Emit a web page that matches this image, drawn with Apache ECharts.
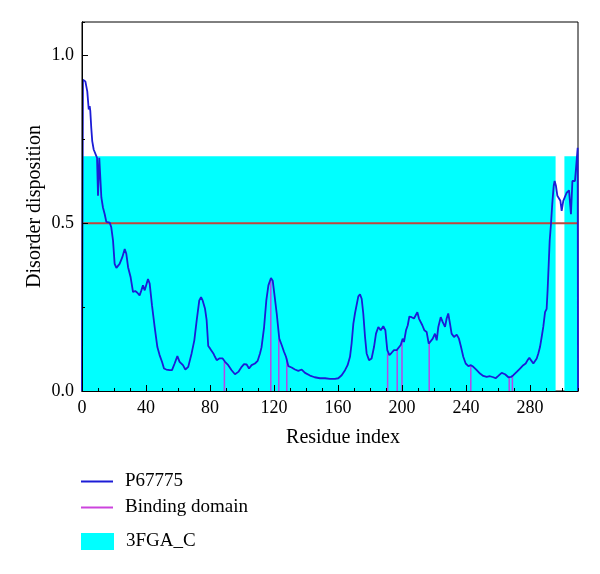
<!DOCTYPE html>
<html><head><meta charset="utf-8">
<script src="https://cdn.jsdelivr.net/npm/echarts@6/dist/echarts.min.js"></script>
<style>html,body{margin:0;padding:0;background:#fff}#c{width:600px;height:574px}</style>
</head><body><div id="c"></div>
<script>
const residues = [0,0.6,2.1,3.3,4.2,4.8,5.2,5.8,6.4,7.3,8.5,9.4,10,10.8,11.3,12.1,13.1,14.2,15.2,17.3,18.3,19.4,20.4,21.5,23.5,25.2,26.7,27.7,28.8,30.4,31.9,33.3,34.6,36,37.1,38.1,39.2,40.2,41.25,42.3,43.75,45.4,47.1,48.5,50,51.25,52.7,54.8,56.25,57.9,59.6,61,63.1,64.6,66.4,68.5,70.2,71.7,73.3,74.4,75.4,76.9,77.9,78.9,80,81,82.1,83.1,84.2,85.8,87.9,89.4,91.4,93.5,95.6,97.7,99.8,101.25,102.9,104.4,106,108.1,109.8,111.25,112.2,113.8,115.2,116.5,118.1,119.2,120.2,121.7,123.3,124.8,126.25,127.5,129,131,133.1,135.2,137.3,139.4,142.5,145.4,148.75,151.9,155,158.1,160.2,162.3,164.4,166,167.5,168.5,169.6,170.6,171.7,172.7,173.75,174.8,175.8,176.9,177.9,179.4,181,182.5,183.75,185.2,186.7,188.3,189.6,190.8,192.1,193.5,195,196.7,197.9,199.2,200.4,201.25,202.5,203.6,204.6,206,207.5,208.75,209.6,210.6,211.7,212.7,214,215.4,216.7,217.9,219.2,220.6,221.7,222.7,224.2,225.4,226.9,227.9,228.9,230,231,232.5,234.2,235.6,236.9,238.3,239.8,241.5,243.1,244.6,246.7,248.75,250.8,252.9,255,257.1,258.5,260.2,262.3,264.4,266.5,268.1,269.6,271.7,273.75,275.8,277.3,278.5,279.6,280.6,282.1,283.1,284.2,285.2,286.25,287.3,288.3,289.4,290.4,291,291.7,292.3,293.1,293.9,294.8,295.4,296.25,297.1,298.1,299,299.8,300.8,301.9,302.9,304.4,305.2,305.6,306.5,308.1,309.2,309.8,310];
const disorder = [0,0.928,0.923,0.893,0.839,0.849,0.834,0.784,0.745,0.72,0.715,0.695,0.582,0.695,0.69,0.577,0.547,0.527,0.504,0.502,0.488,0.448,0.379,0.367,0.379,0.399,0.423,0.409,0.369,0.339,0.295,0.298,0.293,0.285,0.300,0.315,0.300,0.300,0.334,0.320,0.255,0.191,0.131,0.107,0.087,0.067,0.064,0.062,0.062,0.082,0.104,0.087,0.077,0.064,0.072,0.112,0.151,0.211,0.270,0.280,0.270,0.245,0.211,0.134,0.127,0.122,0.112,0.102,0.092,0.097,0.097,0.087,0.077,0.062,0.050,0.057,0.072,0.080,0.079,0.067,0.077,0.082,0.090,0.112,0.13,0.19,0.27,0.315,0.337,0.329,0.290,0.231,0.156,0.137,0.117,0.102,0.074,0.070,0.064,0.060,0.064,0.054,0.046,0.041,0.038,0.038,0.036,0.036,0.038,0.047,0.062,0.077,0.102,0.141,0.201,0.231,0.235,0.282,0.288,0.275,0.231,0.161,0.112,0.092,0.097,0.131,0.171,0.191,0.181,0.193,0.181,0.122,0.107,0.114,0.122,0.122,0.120,0.137,0.156,0.146,0.181,0.196,0.222,0.220,0.216,0.220,0.235,0.216,0.220,0.196,0.181,0.176,0.141,0.146,0.156,0.171,0.151,0.191,0.220,0.206,0.191,0.216,0.231,0.201,0.171,0.161,0.168,0.156,0.131,0.102,0.082,0.074,0.077,0.072,0.062,0.052,0.045,0.042,0.044,0.041,0.038,0.045,0.054,0.050,0.041,0.042,0.047,0.057,0.067,0.077,0.082,0.092,0.099,0.092,0.082,0.084,0.097,0.112,0.131,0.161,0.191,0.235,0.245,0.300,0.379,0.448,0.497,0.557,0.611,0.626,0.611,0.582,0.582,0.567,0.537,0.567,0.567,0.591,0.598,0.596,0.527,0.626,0.626,0.626,0.725,0];
const bindingResidues = [89,118,123,128,191,197,200,217,243,267,269];
const bindingValues = [0.088,0.335,0.156,0.098,0.112,0.122,0.150,0.141,0.077,0.041,0.047];
const domainStart = [0,301.5];
const domainEnd = [296,310];
const domainHeight = [0.7,0.7];
const thresholdX = [0,310];
const thresholdY = [0.5,0.5];
const yTickLabels = ['0.0','0.5','1.0'];

const FONT = 'Liberation Serif';
const chart = echarts.init(document.getElementById('c'));
const tickStyle = {color:'#000',width:1};
const legendText = {color:'#000',fontFamily:FONT,fontSize:19,padding:[0,0,0,7]};
chart.setOption({
  animation:false,
  backgroundColor:'#fff',
  grid:{left:82,right:22,top:22,bottom:183,show:true,borderColor:'#000',borderWidth:1,backgroundColor:'transparent'},
  xAxis:[
    {type:'value',min:0,max:310,interval:10,z:10,axisLine:{lineStyle:{color:'#000'}},
     axisTick:{inside:true,length:3,lineStyle:tickStyle},axisLabel:{show:false},splitLine:{show:false}},
    {type:'value',min:0,max:310,interval:40,z:10,position:'bottom',axisLine:{lineStyle:{color:'#000'}},
     axisTick:{inside:true,length:6,lineStyle:tickStyle},splitLine:{show:false},
     axisLabel:{showMaxLabel:false,margin:8,color:'#000',fontFamily:FONT,fontSize:18},
     name:'Residue index',nameLocation:'middle',nameGap:37,
     nameTextStyle:{color:'#000',fontFamily:FONT,fontSize:20,padding:[0,0,0,26]}}
  ],
  yAxis:[
    {type:'value',min:0,max:1.1,interval:0.25,z:10,axisLine:{show:true,lineStyle:{color:'#000'}},
     axisTick:{show:true,inside:true,length:3,lineStyle:tickStyle},axisLabel:{show:false},splitLine:{show:false}},
    {type:'value',min:0,max:1.1,interval:0.5,z:10,position:'left',axisLine:{show:true,lineStyle:{color:'#000'}},
     axisTick:{show:true,inside:true,length:6,lineStyle:tickStyle},splitLine:{show:false},
     axisLabel:{showMaxLabel:false,margin:8,color:'#000',fontFamily:FONT,fontSize:18,
       formatter:(v)=>{const i=Math.round(v/0.5);return yTickLabels[i]!==undefined?yTickLabels[i]:'';}},
     name:'Disorder disposition',nameLocation:'middle',nameGap:37,nameMoveOverlap:false,
     nameTextStyle:{color:'#000',fontFamily:FONT,fontSize:20}}
  ],
  legend:[
    {data:[{name:'P67775',icon:'rect'}],left:81,top:472,padding:0,itemWidth:32,itemHeight:2,selectedMode:false,textStyle:legendText},
    {data:[{name:'Binding domain',icon:'rect'}],left:81,top:498,padding:0,itemWidth:32,itemHeight:2,selectedMode:false,textStyle:legendText},
    {data:[{name:'3FGA_C',icon:'rect'}],left:81,top:532,padding:0,itemWidth:33,itemHeight:17,selectedMode:false,textStyle:legendText}
  ],
  series:[
    {name:'3FGA_C',type:'custom',xAxisIndex:0,yAxisIndex:0,silent:true,z:1,
     itemStyle:{color:'#00ffff'},
     encode:{x:[0,1],y:[2]},
     data:domainStart.map((s,i)=>[s,domainEnd[i],domainHeight[i]]),
     renderItem:(params,api)=>{
       const p0=api.coord([api.value(0),0]);const p1=api.coord([api.value(1),api.value(2)]);
       return {type:'rect',shape:{x:p0[0],y:p1[1],width:p1[0]-p0[0],height:p0[1]-p1[1]},style:{fill:'#00ffff'}};
     }},
    {name:'threshold',type:'line',xAxisIndex:0,yAxisIndex:0,silent:true,z:2,showSymbol:false,symbol:'none',
     itemStyle:{color:'#c0463c'},lineStyle:{color:'#c0463c',width:2},data:thresholdX.map((x,i)=>[x,thresholdY[i]])},
    {name:'Binding domain',type:'custom',xAxisIndex:0,yAxisIndex:0,silent:true,z:3,
     itemStyle:{color:'#cc44dd'},
     encode:{x:[0],y:[1]},
     data:bindingResidues.map((x,i)=>[x,bindingValues[i]]),
     renderItem:(params,api)=>{
       const p0=api.coord([api.value(0),0]);const p1=api.coord([api.value(0),api.value(1)]);
       return {type:'line',shape:{x1:p0[0],y1:p0[1],x2:p1[0],y2:p1[1]},style:{stroke:'#b844e8',lineWidth:1.5}};
     }},
    {name:'P67775',type:'line',xAxisIndex:0,yAxisIndex:0,z:4,showSymbol:false,symbol:'none',
     itemStyle:{color:'#1c1cd6'},lineStyle:{color:'#1c1cd6',width:1.8},
     data:residues.map((x,i)=>[x,disorder[i]])}
  ]
});
</script></body></html>
